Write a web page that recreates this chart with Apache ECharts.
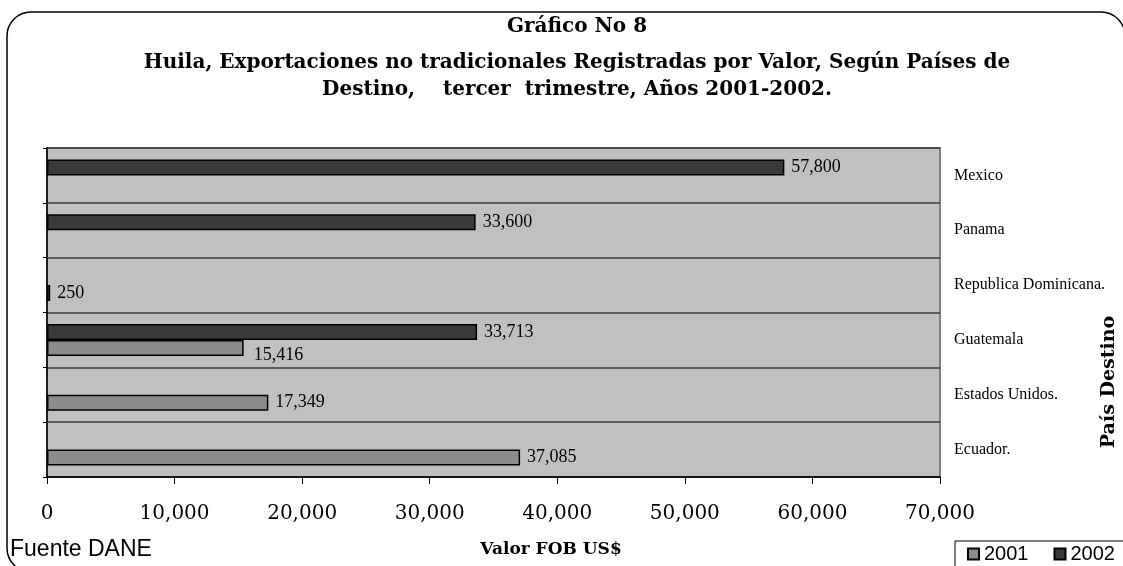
<!DOCTYPE html>
<html>
<head>
<meta charset="utf-8">
<script src="https://cdn.jsdelivr.net/npm/echarts@6/dist/echarts.min.js"></script>
<style>
    html, body { margin: 0; padding: 0; background: #fff; }
    #main { width: 1123px; height: 566px; }
</style>
</head>
<body>
<div id="main"></div>
<script>
// datos (de abajo hacia arriba)
var paises = ['Ecuador.', 'Estados Unidos.', 'Guatemala', 'Republica Dominicana.', 'Panama', 'Mexico'];
var valores2001 = [37085, 17349, 15416, 250, null, null];
var valores2002 = [null, null, 33713, null, 33600, 57800];
var anios = ['2001', '2002'];
var ticksX = [0, 10000, 20000, 30000, 40000, 50000, 60000, 70000];

var titulo = 'Gráfico No 8';
var subtitulo = [
    'Huila, Exportaciones no tradicionales Registradas por Valor, Según Países de',
    'Destino,    tercer  trimestre, Años 2001-2002.'
];

function miles(v) {
    return String(v).replace(/\B(?=(\d{3})+(?!\d))/g, ',');
}

function serie(nombre, valores, color) {
    var data = [];
    for (var i = 0; i < valores.length; i++) {
        // en Guatemala la etiqueta de 2001 queda corrida hacia abajo
        if (nombre == '2001' && paises[i] == 'Guatemala') {
            data.push({ value: valores[i], label: { offset: [3, 7] } });
        } else {
            data.push(valores[i]);
        }
    }
    return {
        name: nombre,
        type: 'bar',
        data: data,
        barWidth: 16,
        barGap: '0%',
        itemStyle: { color: color, borderColor: '#000', borderWidth: 1.5 },
        label: {
            show: true,
            position: 'right',
            distance: 7,
            fontFamily: 'Liberation Serif',
            fontSize: 18,
            color: '#000',
            formatter: function (p) { return miles(p.value); }
        }
    };
}

function render() {
    var myChart = echarts.init(document.getElementById('main'));

    var option = {
        animation: false,
        backgroundColor: '#fff',
        title: {
            text: titulo,
            subtext: subtitulo.join('\n'),
            left: 572,
            top: 10,
            textAlign: 'center',
            itemGap: 10,
            textStyle: {
                fontFamily: 'DejaVu Serif',
                fontWeight: 'bold',
                fontSize: 20,
                lineHeight: 24,
                color: '#000'
            },
            subtextStyle: {
                fontFamily: 'DejaVu Serif',
                fontWeight: 'bold',
                fontSize: 20,
                lineHeight: 27,
                color: '#000'
            }
        },
        legend: {
            data: anios,
            left: 955,
            top: 541,
            width: 200,
            icon: 'rect',
            itemWidth: 11,
            itemHeight: 11,
            itemGap: 25,
            padding: [3, 12],
            backgroundColor: '#fff',
            borderColor: '#000',
            borderWidth: 1,
            textStyle: { fontFamily: 'Liberation Sans', fontSize: 20, color: '#000' }
        },
        grid: {
            left: 47,
            right: 183,
            top: 148,
            bottom: 89,
            show: true,
            backgroundColor: '#c0c0c0',
            borderColor: '#808080',
            borderWidth: 2
        },
        xAxis: {
            type: 'value',
            min: ticksX[0],
            max: ticksX[ticksX.length - 1],
            interval: ticksX[1] - ticksX[0],
            axisLine: { show: true, lineStyle: { color: '#000', width: 1.5 } },
            axisTick: { show: true, length: 7, lineStyle: { color: '#000' } },
            splitLine: { show: false },
            axisLabel: {
                margin: 27,
                fontFamily: 'DejaVu Serif',
                fontSize: 20,
                color: '#000',
                formatter: miles
            }
        },
        yAxis: [
            {
                type: 'category',
                data: paises,
                position: 'left',
                axisLine: { show: true, lineStyle: { color: '#000', width: 1.5 } },
                axisTick: { show: true, length: 4, lineStyle: { color: '#000' } },
                axisLabel: { show: false },
                splitLine: { show: true, lineStyle: { color: '#3c3c3c', width: 1.5 } }
            },
            {
                type: 'category',
                data: paises,
                position: 'right',
                axisLine: { show: false },
                axisTick: { show: false },
                splitLine: { show: false },
                axisLabel: {
                    margin: 14,
                    fontFamily: 'Liberation Serif',
                    fontSize: 16,
                    color: '#000'
                }
            }
        ],
        graphic: [
            {
                type: 'rect',
                silent: true,
                shape: { x: 7, y: 12, width: 1118, height: 560, r: 24 },
                style: { fill: 'transparent', stroke: '#000', lineWidth: 1.5 }
            },
            {
                type: 'text',
                left: 10,
                top: 538,
                style: { text: 'Fuente DANE', font: '23px "Liberation Sans"', fill: '#000' }
            },
            {
                type: 'text',
                x: 551,
                y: 550,
                style: {
                    text: 'Valor FOB US$',
                    textAlign: 'center',
                    textVerticalAlign: 'middle',
                    font: 'bold 17px "DejaVu Serif"',
                    fill: '#000'
                }
            },
            {
                type: 'text',
                x: 1109,
                y: 382,
                rotation: Math.PI / 2,
                style: {
                    text: 'País Destino',
                    textAlign: 'center',
                    textVerticalAlign: 'middle',
                    font: 'bold 19px "DejaVu Serif"',
                    fill: '#000'
                }
            }
        ],
        // 2002 va primero para que quede arriba dentro de cada banda
        series: [
            serie('2002', valores2002, '#3a3a3a'),
            serie('2001', valores2001, '#8c8c8c')
        ]
    };

    myChart.setOption(option);
}

render();
</script>
</body>
</html>
